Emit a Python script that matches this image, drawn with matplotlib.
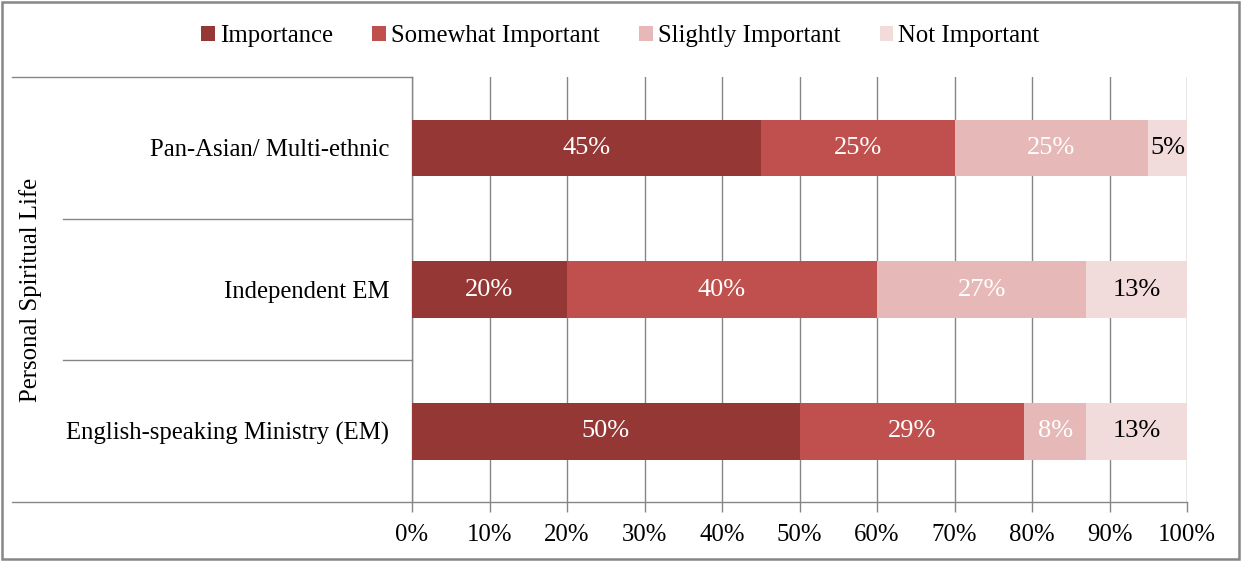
import matplotlib
matplotlib.use("Agg")
import matplotlib.pyplot as plt
from matplotlib.patches import Rectangle
import numpy as np

categories = ["English-speaking Ministry (EM)", "Independent EM", "Pan-Asian/ Multi-ethnic"]
series_names = ["Importance", "Somewhat Important", "Slightly Important", "Not Important"]
importance = [50, 20, 45]
somewhat = [29, 40, 25]
slightly = [8, 27, 25]
not_important = [13, 13, 5]
group_label = "Personal Spiritual Life"
xticks = [0, 10, 20, 30, 40, 50, 60, 70, 80, 90, 100]

colors = ["#953735", "#C0504D", "#E6B9B8", "#F2DCDB"]
label_colors = ["white", "white", "white", "black"]

plt.rcParams['font.family'] = ['Liberation Serif', 'DejaVu Serif']
FS = 17.8

W, H = 1241, 561
fig = plt.figure(figsize=(W / 100, H / 100), dpi=100)
L, R, T, B = 412, 1187, 77, 502
ax = fig.add_axes([L / W, (H - B) / H, (R - L) / W, (B - T) / H])

data = [importance, somewhat, slightly, not_important]
y = np.arange(len(categories))
left = np.zeros(len(categories))
for vals, name, c, lc in zip(data, series_names, colors, label_colors):
    vals = np.array(vals, dtype=float)
    ax.barh(y, vals, left=left, height=0.4, color=c, label=name, zorder=3)
    for yi, (l, v) in enumerate(zip(left, vals)):
        ax.text(l + v / 2, yi, f"{int(v)}%", ha="center", va="center",
                color=lc, fontsize=19, zorder=4)
    left += vals

ax.set_xlim(0, 100)
ax.set_ylim(-0.5, 2.5)
ax.set_xticks(xticks)
ax.set_xticklabels([f"{t}%" for t in xticks], fontsize=FS)
ax.set_yticks(y)
ax.set_yticklabels(categories, fontsize=FS)
ax.tick_params(axis="y", length=0, pad=16.5)
ax.tick_params(axis="x", length=7, width=1, color="#868686", pad=9)
ax.xaxis.grid(True, color="#868686", linewidth=1, zorder=0)
for s in ["top", "right"]:
    ax.spines[s].set_visible(False)
for s in ["left", "bottom"]:
    ax.spines[s].set_color("#868686")
    ax.spines[s].set_linewidth(1)

tr = ax.get_yaxis_transform()
x_sep = (63 - L) / (R - L)
x_out = (12 - L) / (R - L)
for yb in [0.5, 1.5]:
    ax.plot([x_sep, 0], [yb, yb], transform=tr, color="#868686", lw=1, clip_on=False)
for yb in [-0.5, 2.5]:
    ax.plot([x_out, 0], [yb, yb], transform=tr, color="#868686", lw=1, clip_on=False)

fig.text(31 / W, 1 - ((T + B) / 2) / H, group_label, rotation=90, ha="center",
         va="center", fontsize=FS)

fig.legend(loc="center", bbox_to_anchor=(0.5, 1 - 36 / H), ncol=4, frameon=False,
           fontsize=FS, handlelength=0.55, handleheight=0.55, handletextpad=0.2,
           columnspacing=1.6)

fig.patches.append(Rectangle((2 / W, 2 / H), (W - 4) / W, (H - 4) / H,
                             transform=fig.transFigure, fill=False,
                             edgecolor="#868686", linewidth=1.8))

fig.savefig("out.png", dpi=100)
